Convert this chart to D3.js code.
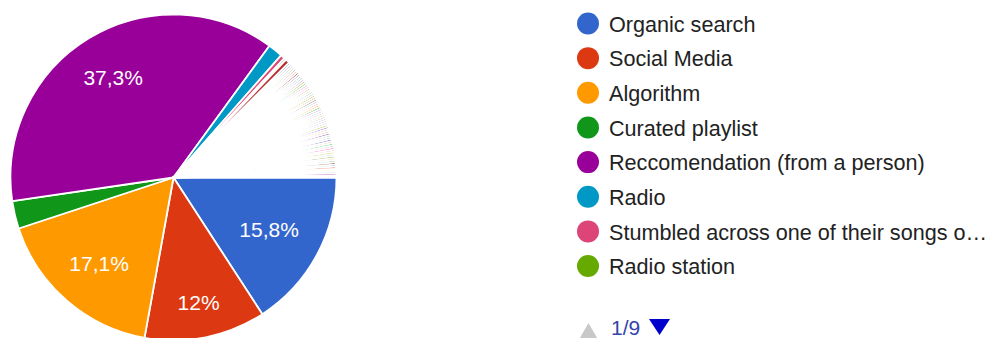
<!DOCTYPE html>
<html>
<head>
<meta charset="utf-8">
<script src="https://cdn.jsdelivr.net/npm/d3@7"></script>
<style>
  html, body { margin: 0; padding: 0; background: #fff; }
  svg { display: block; }
</style>
</head>
<body>
<svg id="chart" width="990" height="338"></svg>
<script>
// ---- data ----
const categories = ["Organic search", "Social Media", "Algorithm", "Curated playlist",
  "Reccomendation (from a person)", "Radio", "Stumbled across one of their songs o\u2026", "Radio station"];
const counts = [75, 57, 81, 13, 177, 7, 2, 1];
// remaining single "other" answers (legend pages 2-9)
const otherCounts = [2, 1, 1, 1, 1, 1, 1, 1, 1, 1, 1, 1, 1, 1, 1, 1, 1, 1, 1, 1,
  1, 1, 1, 1, 1, 1, 1, 1, 1, 1, 1, 1, 1, 1, 1, 1, 1, 1, 1, 1,
  1, 1, 1, 1, 1, 1, 1, 1, 1, 1, 1, 1, 1, 1, 1, 1, 1, 1, 1, 1];
const palette = ["#3366cc", "#dc3912", "#ff9900", "#109618", "#990099", "#0099c6", "#dd4477",
  "#66aa00", "#b82e2e", "#316395", "#994499", "#22aa99", "#aaaa11", "#6633cc", "#e67300",
  "#8b0707", "#651067", "#329262", "#5574a6", "#3b3eac", "#b77322", "#16d620", "#b91383",
  "#f4359e", "#9c5935", "#a9c413", "#2a778d", "#668d1c", "#bea413", "#0c5922", "#743411"];
const pageLabel = "1/9";

// ---- build ----
const allValues = counts.concat(otherCounts);
const total = d3.sum(allValues);
const svg = d3.select("#chart");
const cx = 173.5, cy = 177.5, R = 163;
const fontFam = "'Liberation Sans', Arial, sans-serif";

const pie = d3.pie().value(d => d).sort(null)
  .startAngle(Math.PI / 2).endAngle(Math.PI / 2 + 2 * Math.PI);
const arcs = pie(allValues);
const arc = d3.arc().innerRadius(0).outerRadius(R);
const color = i => palette[i % palette.length];

const g = svg.append("g").attr("transform", `translate(${cx},${cy})`);
g.selectAll("path.slice").data(arcs).join("path")
  .attr("class", "slice")
  .attr("d", arc)
  .attr("fill", (d, i) => color(i))
  .attr("stroke", "#fff")
  .attr("stroke-width", 1.8)
  .attr("stroke-linejoin", "round");

// percentage labels
const fmt = v => {
  let s = d3.format(".1f")(v);
  if (s.endsWith(".0")) s = s.slice(0, -2);
  return s.replace(".", ",") + "%";
};
const labelFont = 21;
arcs.forEach((d, i) => {
  const pct = d.value / total * 100;
  if (pct < 5) return;
  const t = g.append("text")
    .attr("font-family", fontFam)
    .attr("font-size", labelFont)
    .attr("fill", "#fff")
    .attr("text-anchor", "middle")
    .text(fmt(pct));
  const w = t.node().getComputedTextLength();
  const h = labelFont * 0.716;
  const mid = (d.startAngle + d.endAngle) / 2;
  const ux = Math.sin(mid), uy = -Math.cos(mid);
  const ext = Math.abs(ux) * w / 2 + Math.abs(uy) * h / 2;
  const dist = R * 0.85 - ext;
  t.attr("x", ux * dist).attr("y", uy * dist + h / 2);
});

// legend
const lx = 588, ly0 = 23.5, step = 34.65;
const leg = svg.append("g");
categories.forEach((c, i) => {
  leg.append("circle").attr("cx", lx).attr("cy", ly0 + i * step).attr("r", 11).attr("fill", color(i));
  leg.append("text").attr("x", 609).attr("y", ly0 + i * step + 8.3)
    .attr("font-family", fontFam).attr("font-size", 21.6).attr("fill", "#222")
    .text(c);
});

// pagination
svg.append("path")
  .attr("transform", "translate(588.5,336)")
  .attr("d", d3.symbol(d3.symbolTriangle, 220)())
  .attr("fill", "#c8c8c8");
svg.append("text").attr("x", 611).attr("y", 335)
  .attr("font-family", fontFam).attr("font-size", 21).attr("fill", "#3344aa")
  .text(pageLabel);
svg.append("path")
  .attr("d", d3.line()([[649, 319], [670, 319], [659.5, 335]]) + "Z")
  .attr("fill", "#0000cc");
</script>
</body>
</html>
